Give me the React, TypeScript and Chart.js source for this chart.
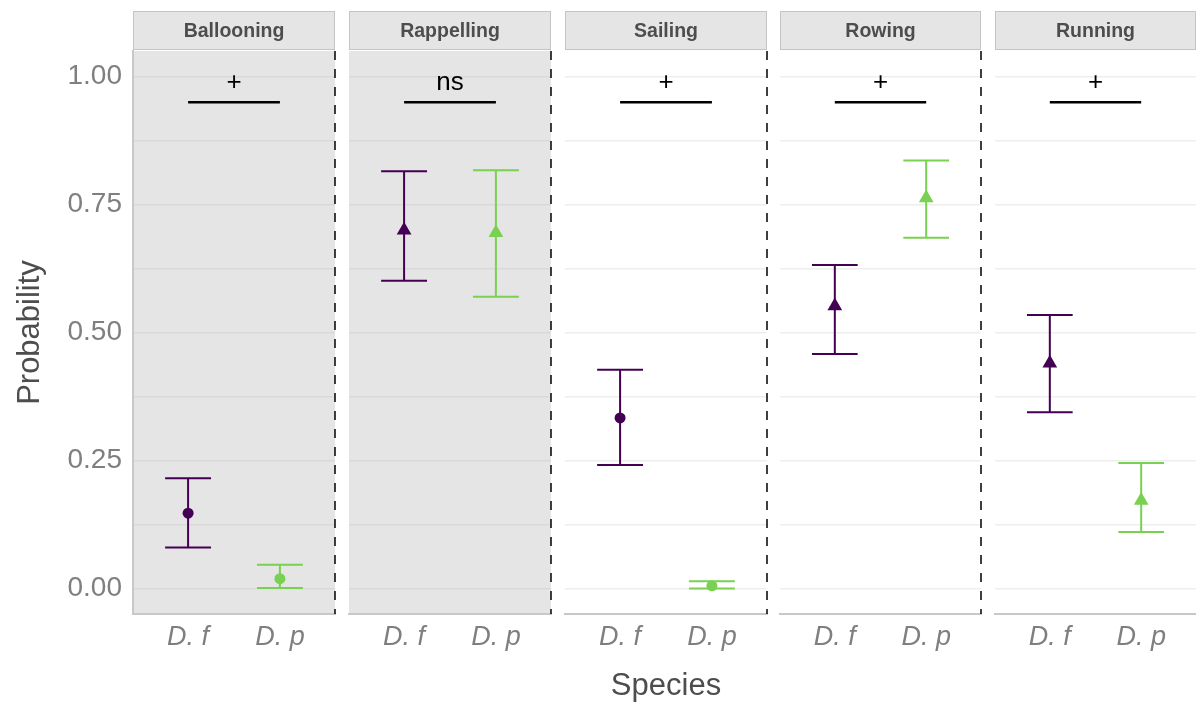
import React, { useEffect, useRef } from 'react';
import { Chart, registerables } from 'chart.js';

Chart.register(...registerables);

// ---------------- data ----------------
const activities = ['Ballooning', 'Rappelling', 'Sailing', 'Rowing', 'Running'];
const species = ['D. f', 'D. p'];

const dfMean = [0.147, 0.7, 0.333, 0.552, 0.44];
const dfLower = [0.08, 0.601, 0.241, 0.458, 0.344];
const dfUpper = [0.215, 0.815, 0.427, 0.632, 0.534];

const dpMean = [0.019, 0.695, 0.005, 0.763, 0.172];
const dpLower = [0.001, 0.57, 0.0, 0.685, 0.11];
const dpUpper = [0.046, 0.817, 0.014, 0.836, 0.245];

const sigLabels = ['+', 'ns', '+', '+', '+'];
const sigLevel = 0.95;

const pointShapes = ['circle', 'triangle', 'circle', 'triangle', 'triangle'];
const shadedPanels = [true, true, false, false, false];

const yTickValues = [0, 0.125, 0.25, 0.375, 0.5, 0.625, 0.75, 0.875, 1];
const yMajorTicks = [0, 0.25, 0.5, 0.75, 1];

// ---------------- style / layout ----------------
const FONT = "'Liberation Sans', Arial, Helvetica, sans-serif";
const COLORS = ['#440154', '#7AD151'];
const W = 1196;
const H = 705;
const PANEL_LEFT = [133, 349, 565, 780, 995];
const PANEL_RIGHT = [335, 551, 767, 981, 1196];
const PLOT_TOP = 51;
const PLOT_BOTTOM = 614;
const STRIP_TOP = 11;
const STRIP_BOTTOM = 50;
const SIDE_PAD = 14;

function Panel({ index }: { index: number }) {
  const ref = useRef<HTMLCanvasElement | null>(null);
  const first = index === 0;
  const last = index === activities.length - 1;
  const left = PANEL_LEFT[index];
  const right = PANEL_RIGHT[index];
  const canvasLeft = first ? 0 : left - SIDE_PAD;
  const canvasRight = right + SIDE_PAD;
  const cw = canvasRight - canvasLeft;

  useEffect(() => {
    const canvas = ref.current;
    if (!canvas) return;
    const means = [dfMean[index], dpMean[index]];
    const lowers = [dfLower[index], dpLower[index]];
    const uppers = [dfUpper[index], dpUpper[index]];
    const shaded = shadedPanels[index];

    const panelPlugin = {
      id: 'panelDeco',
      beforeDraw(chart: any) {
        const { ctx, chartArea: ca } = chart;
        ctx.save();
        if (shaded) {
          ctx.fillStyle = '#e5e5e5';
          ctx.fillRect(ca.left, ca.top, ca.right - ca.left, ca.bottom - ca.top);
        }
        // strip
        ctx.fillStyle = '#e5e5e5';
        ctx.fillRect(ca.left, STRIP_TOP, ca.right - ca.left, STRIP_BOTTOM - STRIP_TOP);
        ctx.strokeStyle = '#c4c4c4';
        ctx.lineWidth = 1;
        ctx.strokeRect(ca.left + 0.5, STRIP_TOP + 0.5, ca.right - ca.left - 1, STRIP_BOTTOM - STRIP_TOP - 1);
        ctx.fillStyle = '#4d4d4d';
        ctx.font = `bold 19.5px ${FONT}`;
        ctx.textAlign = 'center';
        ctx.textBaseline = 'middle';
        ctx.fillText(activities[index], (ca.left + ca.right) / 2, (STRIP_TOP + STRIP_BOTTOM) / 2 + 1);
        ctx.restore();
      },
      beforeDatasetsDraw(chart: any) {
        const { ctx, scales } = chart;
        const xs = scales.x;
        const ys = scales.y;
        ctx.save();
        // error bars
        for (let s = 0; s < species.length; s++) {
          const x = xs.getPixelForValue(s + 1);
          const half = xs.getPixelForValue(s + 1 + 0.25) - x;
          const yl = ys.getPixelForValue(lowers[s]);
          const yu = ys.getPixelForValue(uppers[s]);
          ctx.strokeStyle = COLORS[s];
          ctx.lineWidth = 2;
          ctx.beginPath();
          ctx.moveTo(x, yl);
          ctx.lineTo(x, yu);
          ctx.moveTo(x - half, yl);
          ctx.lineTo(x + half, yl);
          ctx.moveTo(x - half, yu);
          ctx.lineTo(x + half, yu);
          ctx.stroke();
        }
        // significance bar
        const x1 = xs.getPixelForValue(1);
        const x2 = xs.getPixelForValue(2);
        const ySig = ys.getPixelForValue(sigLevel);
        ctx.strokeStyle = '#000';
        ctx.lineWidth = 2.5;
        ctx.beginPath();
        ctx.moveTo(x1, ySig);
        ctx.lineTo(x2, ySig);
        ctx.stroke();
        ctx.fillStyle = '#000';
        ctx.font = `26px ${FONT}`;
        ctx.textAlign = 'center';
        ctx.textBaseline = 'alphabetic';
        ctx.fillText(sigLabels[index], (x1 + x2) / 2, ySig - 12.5);
        ctx.restore();
      },
      afterDraw(chart: any) {
        if (last) return;
        const { ctx, chartArea: ca } = chart;
        ctx.save();
        ctx.strokeStyle = '#000';
        ctx.lineWidth = 1.5;
        ctx.setLineDash([9, 9]);
        ctx.beginPath();
        ctx.moveTo(ca.right, ca.top);
        ctx.lineTo(ca.right, ca.bottom);
        ctx.stroke();
        ctx.restore();
      },
    };

    const chart = new Chart(canvas, {
      type: 'scatter',
      data: {
        datasets: species.map((sp, s) => ({
          label: sp,
          data: [{ x: s + 1, y: means[s] }],
          pointStyle: pointShapes[index] as any,
          pointRadius: pointShapes[index] === 'triangle' ? 8.5 : 5.5,
          backgroundColor: COLORS[s],
          borderColor: COLORS[s],
          borderWidth: 0,
        })),
      },
      options: {
        responsive: false,
        animation: false,
        devicePixelRatio: 1,
        layout: {
          padding: {
            left: first ? 0 : left - canvasLeft,
            right: canvasRight - right,
            top: PLOT_TOP,
            bottom: 0,
          },
        },
        plugins: {
          legend: { display: false },
          tooltip: { enabled: false },
        },
        scales: {
          x: {
            type: 'linear',
            min: 0.4,
            max: 2.6,
            afterBuildTicks: (s: any) => {
              s.ticks = species.map((_, k) => ({ value: k + 1 }));
            },
            afterFit: (s: any) => {
              s.height = H - PLOT_BOTTOM;
            },
            grid: { display: false, drawTicks: false },
            border: { display: true, color: '#c8c8c8', width: 2 },
            ticks: {
              callback: (v: any) => species[Math.round(Number(v)) - 1] ?? '',
              color: '#7f7f7f',
              font: { family: FONT, size: 27, style: 'italic' },
              padding: 7,
              maxRotation: 0,
              autoSkip: false,
            },
            title: {
              display: index === 2,
              text: 'Species',
              color: '#4d4d4d',
              font: { family: FONT, size: 31, lineHeight: 1 },
              padding: { top: 0, bottom: 3 },
            },
          },
          y: {
            min: -0.05,
            max: 1.05,
            afterBuildTicks: (s: any) => {
              s.ticks = yTickValues.map((v) => ({ value: v }));
            },
            afterFit: (s: any) => {
              s.width = first ? PANEL_LEFT[0] : 0;
            },
            grid: {
              color: shaded ? '#d9d9d9' : '#eeeeee',
              lineWidth: 1.5,
              drawTicks: false,
            },
            border: { display: first, color: '#c8c8c8', width: 2 },
            ticks: {
              display: first,
              callback: (v: any) => (yMajorTicks.includes(Number(v)) ? Number(v).toFixed(2) : ''),
              color: '#7f7f7f',
              font: { family: FONT, size: 28 },
              padding: 11,
            },
            title: {
              display: first,
              text: 'Probability',
              color: '#4d4d4d',
              font: { family: FONT, size: 31, lineHeight: 1 },
              padding: { top: 15, bottom: 0 },
            },
          },
        },
      },
      plugins: [panelPlugin],
    } as any);
    return () => chart.destroy();
  }, [index]);

  return (
    <canvas
      ref={ref}
      width={cw}
      height={H}
      style={{ position: 'absolute', left: canvasLeft, top: 0, width: cw, height: H, display: 'block' }}
    />
  );
}

export default function App() {
  useEffect(() => {
    document.body.style.margin = '0';
  }, []);
  return (
    <div
      style={{
        position: 'fixed',
        left: 0,
        top: 0,
        width: W,
        height: H,
        background: '#ffffff',
        overflow: 'hidden',
      }}
    >
      {activities.map((a, i) => (
        <Panel key={a} index={i} />
      ))}
    </div>
  );
}
